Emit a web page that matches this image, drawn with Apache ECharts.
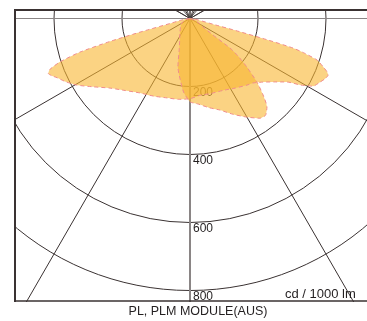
<!DOCTYPE html>
<html>
<head>
<meta charset="utf-8">
<script src="https://cdn.jsdelivr.net/npm/echarts@6/dist/echarts.min.js"></script>
<style>
  html, body { margin: 0; padding: 0; background: #fff; }
  #main { width: 367px; height: 321px; }
</style>
</head>
<body>
<div id="main"></div>
<script>
// radius tick labels (cd / 1000 lm)
var radiusLabels = [200, 400, 600, 800];

// wide batwing curve: angle from nadir (negative = left side), intensity
var wideAngles = [-90, -85, -80, -76, -74.8, -74, -73, -71.5, -70, -68.8, -67.5, -66, -63, -59.5, -55, -49, -42, -34, -25, -16, -8,
  0, 7, 16, 25, 33, 40.6, 44.3, 49, 53, 56.8, 59, 61.2, 64, 66, 67.7, 68.7, 70.2, 71.9, 73.2, 74, 74.6, 75.2, 76, 80, 85, 90];
var wideValues = [0, 10, 25, 60, 144, 245, 339, 404, 439, 447, 440, 428, 410, 386, 350, 312, 285, 264, 252, 243, 240,
  236, 228, 229, 233, 244, 258, 265, 285, 310, 341, 380, 413, 426, 435, 439, 433, 415, 393, 350, 315, 235, 144, 70, 25, 10, 0];

// narrow asymmetric lobe
var lobeAngles = [-90, -75, -61, -45, -35, -25, -19, -14, -9, -5, 0, 5, 12, 18, 24, 30, 35, 38, 41, 44, 46.5, 49.5, 52, 53.6, 54.3, 57, 61, 70, 90];
var lobeValues = [0, 12, 28, 40, 52, 72, 98, 147, 183, 217, 245, 252, 268, 283, 308, 335, 358, 361, 345, 307, 271, 220, 180, 146, 83, 45, 34, 15, 0];

function toPolar(angles, values) {
  return angles.map(function (a, i) {
    return [values[i], a < 0 ? a + 360 : a];
  });
}

var dark = '#3a3232';
var grey = '#8a8585';

var myChart = echarts.init(document.getElementById('main'));

var option = {
  animation: false,
  polar: [
    { center: [190, 18.5], radius: 340 },
    { center: [190, 18.5], radius: 22 }
  ],
  angleAxis: [
    {
      polarIndex: 0,
      type: 'value',
      min: 0,
      max: 360,
      interval: 30,
      startAngle: 270,
      clockwise: false,
      axisLine: { show: false },
      axisTick: { show: false },
      axisLabel: { show: false },
      splitLine: {
        show: true,
        lineStyle: {
          width: 1,
          color: [grey, dark, dark, grey, dark, dark, dark, dark, dark, grey, dark, dark]
        }
      }
    },
    {
      polarIndex: 1,
      type: 'value',
      min: 0,
      max: 120,
      interval: 20,
      startAngle: 30,
      endAngle: 150,
      axisLine: { show: false },
      axisTick: { show: false },
      axisLabel: { show: false },
      splitLine: { show: true, lineStyle: { width: 0.8, color: dark } }
    }
  ],
  radiusAxis: [
    {
      polarIndex: 0,
      type: 'value',
      min: 0,
      max: 1000,
      interval: 200,
      axisLine: { show: true, lineStyle: { color: grey, width: 2 } },
      axisTick: { show: false },
      splitLine: { show: true, lineStyle: { color: dark, width: 1 } },
      axisLabel: {
        show: true,
        color: '#231f20',
        fontSize: 12,
        fontFamily: 'Liberation Sans',
        align: 'left',
        verticalAlign: 'top',
        margin: 3,
        formatter: function (v) {
          return radiusLabels.indexOf(v) >= 0 ? String(v) : '';
        }
      }
    },
    {
      polarIndex: 1,
      type: 'value',
      min: 0,
      max: 1,
      axisLine: { show: false },
      axisTick: { show: false },
      axisLabel: { show: false },
      splitLine: { show: false }
    }
  ],
  series: [
    {
      type: 'line',
      coordinateSystem: 'polar',
      polarIndex: 0,
      data: toPolar(wideAngles, wideValues),
      symbol: 'none',
      smooth: 0.2,
      lineStyle: { color: '#f08c8c', width: 1, type: [4, 3] },
      areaStyle: { color: '#f8b530', opacity: 0.6 }
    },
    {
      type: 'line',
      coordinateSystem: 'polar',
      polarIndex: 0,
      data: toPolar(lobeAngles, lobeValues),
      symbol: 'none',
      smooth: 0.2,
      lineStyle: { color: '#f08c8c', width: 1, type: [4, 3] },
      areaStyle: { color: '#f8b530', opacity: 0.6 }
    }
  ],
  graphic: [
    // white masks outside the frame
    { type: 'rect', z: 100, shape: { x: 0, y: 0, width: 14, height: 321 }, style: { fill: '#fff' } },
    { type: 'rect', z: 100, shape: { x: 0, y: 0, width: 367, height: 9 }, style: { fill: '#fff' } },
    { type: 'rect', z: 100, shape: { x: 0, y: 302, width: 367, height: 19 }, style: { fill: '#fff' } },
    // frame
    { type: 'line', z: 101, shape: { x1: 15, y1: 9, x2: 15, y2: 302 }, style: { stroke: dark, lineWidth: 2 } },
    { type: 'line', z: 101, shape: { x1: 14, y1: 10, x2: 367, y2: 10 }, style: { stroke: dark, lineWidth: 2 } },
    { type: 'line', z: 101, shape: { x1: 14, y1: 301, x2: 367, y2: 301 }, style: { stroke: dark, lineWidth: 1.5 } },
    {
      type: 'text', z: 102, x: 285, y: 294,
      style: { text: 'cd / 1000 lm', fill: '#231f20', font: '13px "Liberation Sans"', align: 'left', verticalAlign: 'middle' }
    },
    {
      type: 'text', z: 102, x: 198, y: 312,
      style: { text: 'PL, PLM MODULE(AUS)', fill: '#231f20', font: '12.5px "Liberation Sans"', align: 'center', verticalAlign: 'middle' }
    }
  ]
};

myChart.setOption(option);
</script>
</body>
</html>
